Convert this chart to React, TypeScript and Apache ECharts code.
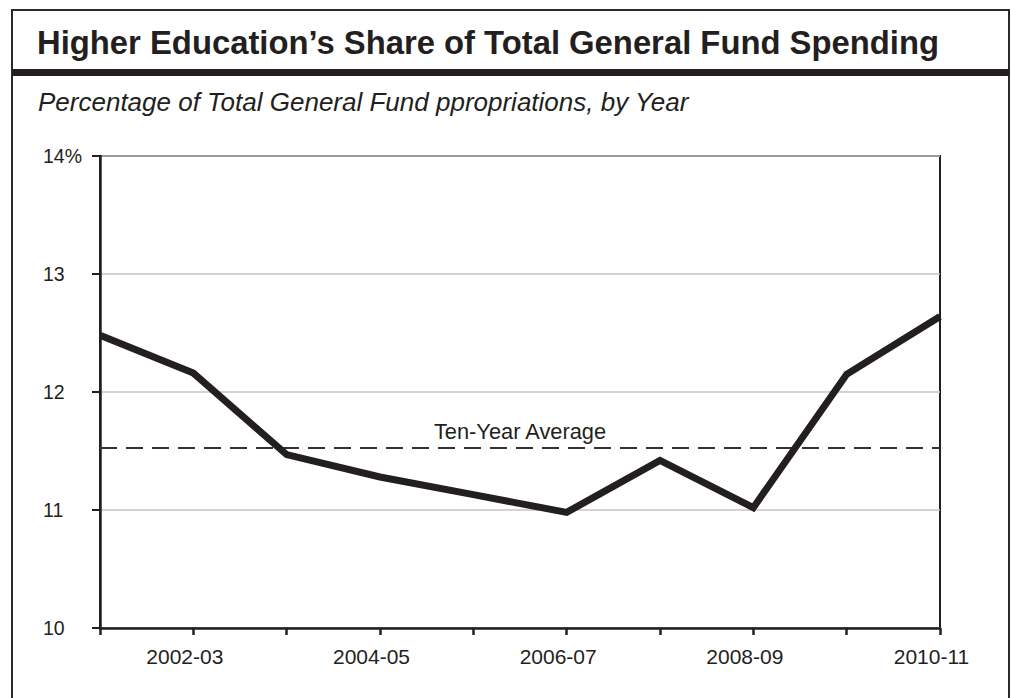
import React, { useEffect, useRef } from "react";
import * as echarts from "echarts";

const years = ["2001-02", "2002-03", "2003-04", "2004-05", "2005-06", "2006-07", "2007-08", "2008-09", "2009-10", "2010-11"];
const sharePct = [12.48, 12.16, 11.47, 11.28, 11.13, 10.98, 11.42, 11.02, 12.15, 12.64];
const tenYearAverage = 11.53;
const yTicks = { min: 10, max: 14, interval: 1 };

const titleText = "Higher Education\u2019s Share of Total General Fund Spending";
const subtitleText = "Percentage of Total General Fund ppropriations, by Year";
const avgLabel = "Ten-Year Average";

const INK = "#231f20";
const FONT = "'Liberation Sans', Arial, Helvetica, sans-serif";

export default function App() {
  const ref = useRef<HTMLDivElement>(null);
  useEffect(() => {
    if (!ref.current) return;
    const chart = echarts.init(ref.current, null, { renderer: "svg" });
    chart.setOption({
      animation: false,
      backgroundColor: "#ffffff",
      textStyle: { fontFamily: FONT },
      graphic: [
        {
          type: "rect",
          shape: { x: 12, y: 10, width: 997, height: 700 },
          style: { fill: "none", stroke: "#2a2a2a", lineWidth: 2 },
          silent: true,
        },
        {
          type: "rect",
          shape: { x: 12, y: 69, width: 997, height: 7 },
          style: { fill: INK },
          silent: true,
        },
        {
          type: "text",
          x: 37,
          y: 42,
          style: {
            text: titleText,
            font: `bold 32.8px ${FONT}`,
            fill: INK,
            textAlign: "left",
            textVerticalAlign: "middle",
          },
        },
        {
          type: "text",
          x: 38,
          y: 102,
          style: {
            text: subtitleText,
            font: `italic 26px ${FONT}`,
            fill: INK,
            textAlign: "left",
            textVerticalAlign: "middle",
          },
        },
      ],
      grid: {
        left: 100,
        right: 71,
        top: 156,
        bottom: 70,
        show: true,
        borderColor: INK,
        borderWidth: 2,
      },
      xAxis: {
        type: "category",
        data: years,
        boundaryGap: false,
        axisLine: { lineStyle: { color: INK, width: 2.5 } },
        axisTick: { show: true, interval: 0, length: 7, lineStyle: { color: INK, width: 2.5 } },
        axisLabel: {
          interval: (i: number) => i % 2 === 1,
          color: INK,
          fontSize: 21,
          fontFamily: FONT,
          margin: 18,
          padding: [0, 17, 0, 0],
        },
        splitLine: { show: false },
      },
      yAxis: {
        type: "value",
        min: yTicks.min,
        max: yTicks.max,
        interval: yTicks.interval,
        axisLine: { show: true, lineStyle: { color: INK, width: 2.5 } },
        axisTick: { show: true, length: 8, lineStyle: { color: INK, width: 2 } },
        axisLabel: {
          color: INK,
          fontSize: 19.5,
          fontFamily: FONT,
          align: "left",
          margin: 57,
          formatter: (v: number) => (v === yTicks.max ? `${v}%` : `${v}`),
        },
        splitLine: { show: true, lineStyle: { color: "#c4c4c4", width: 1.5 } },
      },
      series: [
        {
          type: "line",
          data: sharePct,
          symbol: "none",
          lineStyle: { color: INK, width: 7, join: "miter", cap: "butt" },
          z: 5,
          markLine: {
            silent: true,
            symbol: ["none", "none"],
            lineStyle: { color: "#333333", width: 2, type: [17, 9] },
            label: {
              show: true,
              position: "middle",
              formatter: avgLabel,
              color: INK,
              fontSize: 21.8,
              fontFamily: FONT,
              distance: 5,
            },
            data: [{ yAxis: tenYearAverage }],
          },
        },
      ],
    });
    return () => chart.dispose();
  }, []);
  return (
    <div
      ref={ref}
      style={{ position: "fixed", left: 0, top: 0, width: 1011, height: 698, background: "#fff" }}
    />
  );
}
